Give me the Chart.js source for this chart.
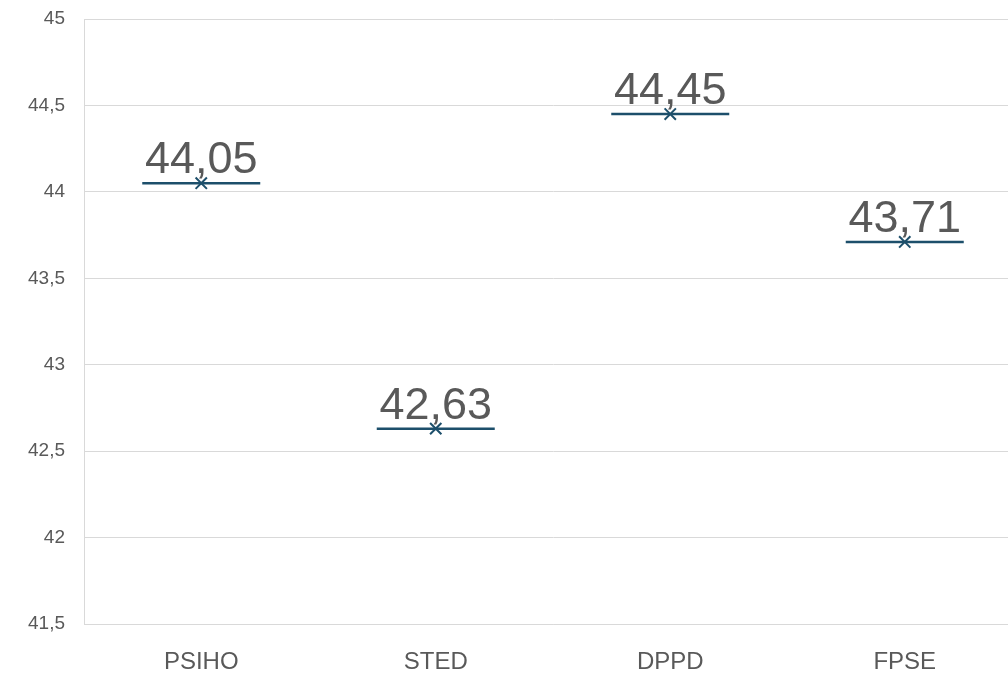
<!DOCTYPE html>
<html lang="hr">
<head>
    <meta charset="UTF-8">
    <title>Prosjek po skupinama</title>
    <style>
        html, body { margin: 0; padding: 0; background: #fff; overflow: hidden; }
        canvas { display: block; }
    </style>
</head>
<body>
    <canvas id="Grafico" width="1022" height="674"></canvas>
<script src="https://cdn.jsdelivr.net/npm/chart.js"></script>
<script>
    // podaci
    const grupe = ['PSIHO', 'STED', 'DPPD', 'FPSE'];
    const prosjeci = [44.05, 42.63, 44.45, 43.71];
    const yTicks = [41.5, 42, 42.5, 43, 43.5, 44, 44.5, 45];

    const boja = '#1d4f6b';
    const sivo = '#595959';

    const zarez = (v) => String(v).replace('.', ',');

    // crta vrijednosti iznad markera
    const oznake = {
        id: 'oznake',
        afterDatasetsDraw(chart) {
            const ctx = chart.ctx;
            const meta = chart.getDatasetMeta(1);
            ctx.save();
            ctx.font = '45px "Liberation Sans", Arial, sans-serif';
            ctx.fillStyle = sivo;
            ctx.textAlign = 'center';
            ctx.textBaseline = 'alphabetic';
            meta.data.forEach((pt, i) => {
                ctx.fillText(prosjeci[i].toFixed(2).replace('.', ','), pt.x, pt.y - 10);
            });
            ctx.restore();
        }
    };

    new Chart(document.getElementById('Grafico'), {
        type: 'line',
        data: {
            labels: grupe,
            datasets: [
                {
                    label: 'linija',
                    data: prosjeci,
                    showLine: false,
                    pointStyle: 'line',
                    pointRadius: 59,
                    pointHoverRadius: 59,
                    borderColor: boja,
                    pointBorderWidth: 2.5,
                    backgroundColor: boja
                },
                {
                    label: 'prosjek',
                    data: prosjeci,
                    showLine: false,
                    pointStyle: 'crossRot',
                    pointRadius: 8,
                    pointHoverRadius: 8,
                    borderColor: boja,
                    pointBorderWidth: 2,
                    backgroundColor: boja
                }
            ]
        },
        options: {
            responsive: false,
            devicePixelRatio: 1,
            animation: false,
            layout: { autoPadding: false, padding: { top: 19, right: 0, bottom: 0, left: 0 } },
            plugins: {
                legend: { display: false },
                tooltip: { enabled: false }
            },
            scales: {
                x: {
                    offset: true,
                    afterFit: (s) => { s.height = 50; s.paddingLeft = 0; s.paddingRight = 0; },
                    grid: { display: false, drawTicks: false },
                    border: { display: true, color: '#d9d9d9' },
                    ticks: {
                        padding: 24,
                        color: sivo,
                        font: { family: '"Liberation Sans", Arial, sans-serif', size: 24 }
                    }
                },
                y: {
                    min: 41.5,
                    max: 45,
                    afterBuildTicks: (s) => { s.ticks = yTicks.map(v => ({ value: v })); },
                    afterFit: (s) => { s.width = 84; s.paddingTop = 0; s.paddingBottom = 0; },
                    grid: { color: '#d9d9d9', lineWidth: 1, drawTicks: false },
                    border: { display: true, color: '#d9d9d9' },
                    ticks: {
                        padding: 19,
                        color: sivo,
                        font: { family: '"Liberation Sans", Arial, sans-serif', size: 19 },
                        callback: (v) => zarez(v)
                    }
                }
            }
        },
        plugins: [oznake]
    });
</script>
</body>
</html>
